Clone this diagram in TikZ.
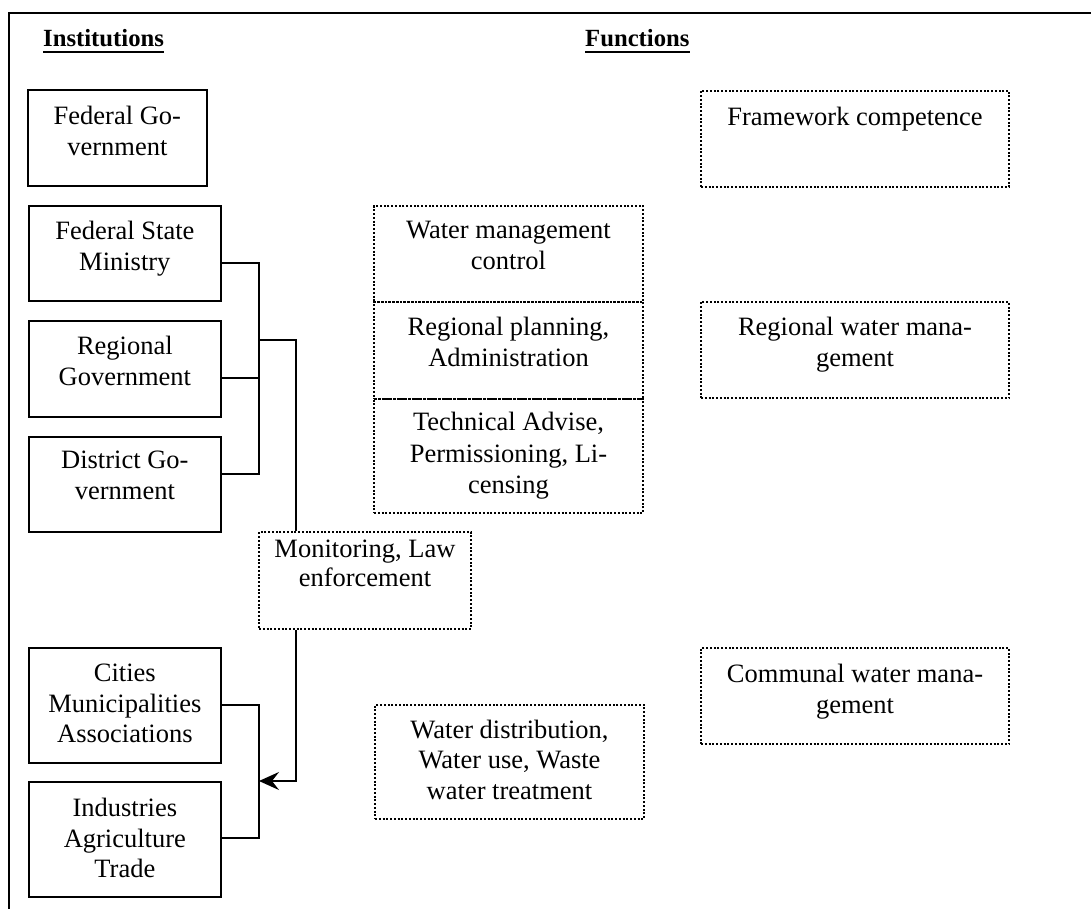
\documentclass[tikz,border=0pt]{standalone}
\usepackage{fontspec}
\setmainfont{Liberation Serif}
\usetikzlibrary{arrows.meta}
\begin{document}
\begin{tikzpicture}[x=1pt,y=-1pt,
  frame/.style={line width=2.2pt},
  ibox/.style={draw, line width=1.7pt, rectangle, inner sep=0pt, anchor=north west},
  fbox/.style={draw, line width=2pt, dash pattern=on 2pt off 1.75pt, rectangle, inner sep=0pt, anchor=north west},
  txt/.style={font=\fontsize{26.5}{31}\selectfont, align=center, inner sep=0pt, anchor=north},
  hdr/.style={font=\fontsize{24.7}{29}\selectfont\bfseries, inner sep=0pt, anchor=base west},
  uline/.style={line width=2pt},
  conn/.style={line width=1.6pt},
  arr/.style={line width=1.6pt, -{Stealth[length=20pt,width=18pt,inset=7pt]}}
]
\useasboundingbox (0,0) rectangle (1091,909);
% frame (top and left edges)
\draw[frame] (1091,13) -- (9,13) -- (9,909);

% headers
\node[hdr] (inst) at (43,47) {Institutions};
\node[hdr] (func) at (585,47) {Functions};
\draw[uline] ([yshift=-5pt]inst.base west) -- ([yshift=-5pt]inst.base east);
\draw[uline] ([yshift=-5pt]func.base west) -- ([yshift=-5pt]func.base east);

% institutions
\node[ibox, minimum width=179, minimum height=96] (fg) at (27,89) {};
\node[ibox, minimum width=192, minimum height=95] (fsm) at (28,205) {};
\node[ibox, minimum width=192, minimum height=96] (rg) at (28,320) {};
\node[ibox, minimum width=192, minimum height=95] (dg) at (28,436) {};
\node[ibox, minimum width=192, minimum height=115] (cma) at (28,647) {};
\node[ibox, minimum width=192, minimum height=115] (iat) at (28,781) {};

\node[txt] (fg-t) at ([yshift=-13.5pt]fg.north) {\strut Federal Go-\\vernment};
\node[txt] (fsm-t) at ([yshift=-13pt]fsm.north) {\strut Federal State\\Ministry};
\node[txt] (rg-t) at ([yshift=-13pt]rg.north) {\strut Regional\\Government};
\node[txt] (dg-t) at ([yshift=-11pt]dg.north) {\strut District Go-\\vernment};
\node[txt, font=\fontsize{26.5}{30.5}\selectfont] (cma-t) at ([yshift=-13pt]cma.north) {\strut Cities\\Municipalities\\Associations};
\node[txt, font=\fontsize{26.5}{30.5}\selectfont] (iat-t) at ([yshift=-14pt]iat.north) {\strut Industries\\Agriculture\\Trade};

% functions, middle column
\node[fbox, minimum width=269, minimum height=96] (wmc) at (373,205) {};
\node[fbox, minimum width=269, minimum height=97] (rpa) at (373,301) {};
\node[fbox, minimum width=269, minimum height=114] (tap) at (373,398) {};
\node[fbox, minimum width=212, minimum height=97] (mle) at (258,531) {};
\node[fbox, minimum width=269, minimum height=114] (wdw) at (374,704) {};

\node[txt] (wmc-t) at ([yshift=-11.5pt]wmc.north) {\strut Water management\\control};
\node[txt] (rpa-t) at ([yshift=-13pt]rpa.north) {\strut Regional planning,\\Administration};
\node[txt, font=\fontsize{26.5}{31.5}\selectfont] (tap-t) at ([yshift=-10.5pt]tap.north) {\strut Technical Advise,\\Permissioning, Li-\\censing};
\node[txt, font=\fontsize{26.5}{29}\selectfont] (mle-t) at ([yshift=-5.5pt]mle.north) {\strut Monitoring, Law\\enforcement};
\node[txt, font=\fontsize{26.5}{30.5}\selectfont] (wdw-t) at ([yshift=-12.5pt]wdw.north) {\strut Water distribution,\\Water use, Waste\\water treatment};

% functions, right column
\node[fbox, minimum width=308, minimum height=96] (fc) at (700,90) {};
\node[fbox, minimum width=308, minimum height=96] (rwm) at (700,301) {};
\node[fbox, minimum width=308, minimum height=96] (cwm) at (700,647) {};

\node[txt] (fc-t) at ([yshift=-13.5pt]fc.north) {\strut Framework competence};
\node[txt] (rwm-t) at ([yshift=-12.5pt]rwm.north) {\strut Regional water mana-\\gement};
\node[txt] (cwm-t) at ([yshift=-13.5pt]cwm.north) {\strut Communal water mana-\\gement};

% connector junctions
\coordinate (j1) at (259,263);
\coordinate (j2) at (259,378);
\coordinate (j3) at (259,474);
\coordinate (j4) at (259,340);
\coordinate (k1) at (296,340);
\coordinate (k2) at (296,781);
\coordinate (j6) at (259,781);
\coordinate (j7) at (259,705);
\coordinate (j8) at (259,838);

\draw[conn] (j1 -| fsm.east) -- (j1) -- (j3) -- (j3 -| dg.east);
\draw[conn] (j2 -| rg.east) -- (j2);
\draw[conn] (j4) -- (k1) -- (k1 |- mle.north);
\draw[arr] (k2 |- mle.south) -- (k2) -- (j6);
\draw[conn] (j7 -| cma.east) -- (j7) -- (j8) -- (j8 -| iat.east);
\end{tikzpicture}
\end{document}
